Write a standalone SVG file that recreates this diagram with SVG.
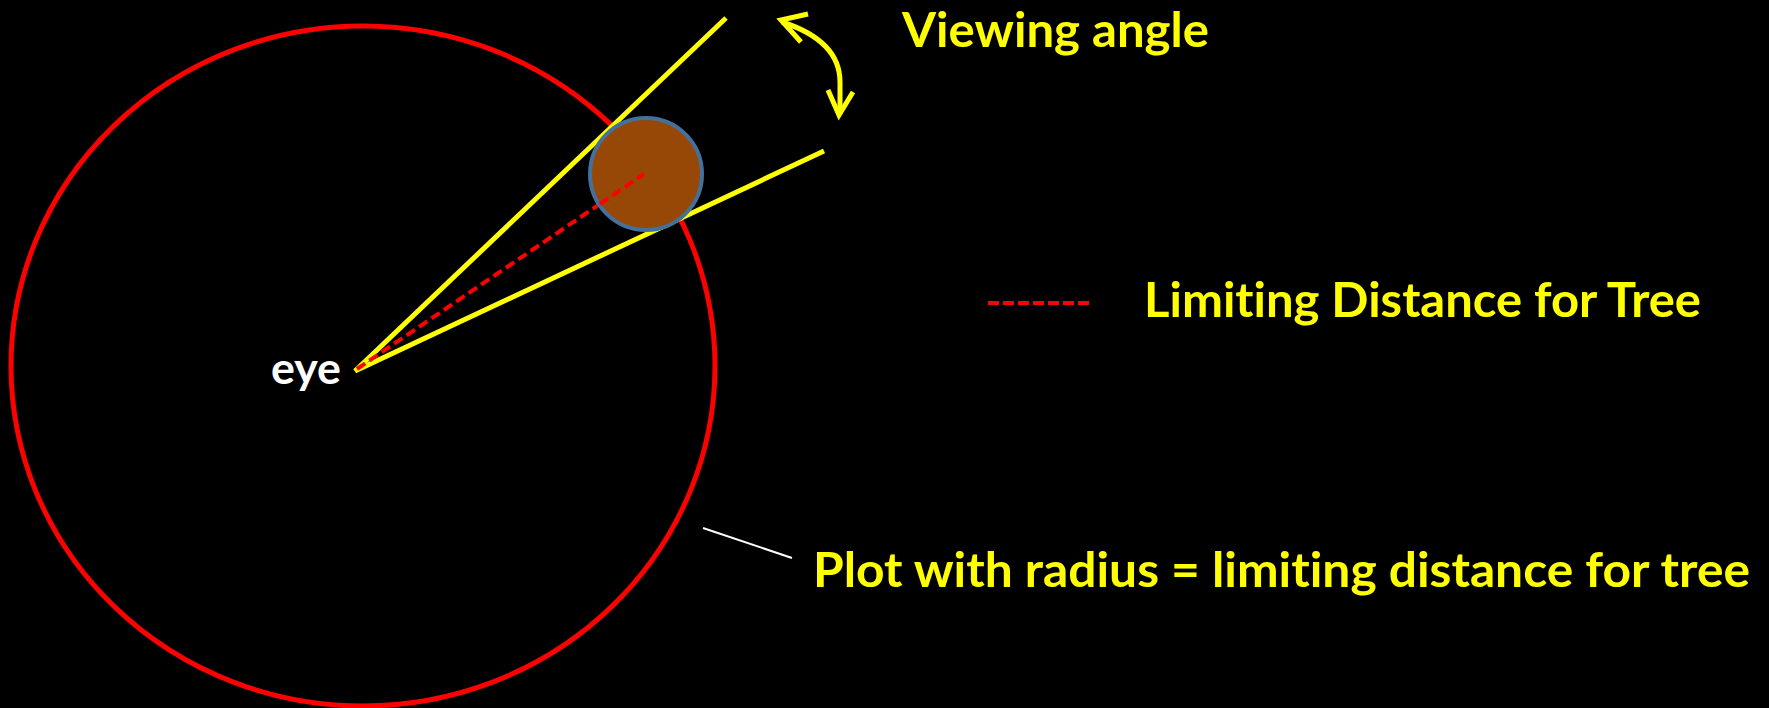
<svg xmlns="http://www.w3.org/2000/svg" width="1769" height="708" viewBox="0 0 1769 708">
<defs>
<style>
text{font-variant-ligatures:none;font-feature-settings:"liga" 0}
.lbl{font-family:Lato,"Liberation Sans",sans-serif;font-weight:bold;font-size:48px;fill:#FFFF00}
.ray{stroke:#FFFF00;stroke-width:5;fill:none}
.dash{stroke:#FF0000;stroke-width:4;stroke-dasharray:10 5;fill:none}
</style>
</defs>
<rect x="0" y="0" width="1769" height="708" fill="#000"/>
<g id="plot">
<ellipse cx="363" cy="366" rx="352" ry="340" fill="none" stroke="#FF0000" stroke-width="5"/>
</g>
<g id="connectors">
<line class="ray" x1="355" y1="371" x2="726" y2="18"/>
<line class="ray" x1="355" y1="371" x2="824" y2="151"/>
<line class="dash" x1="357" y1="369" x2="644" y2="174"/>
<line x1="703" y1="528" x2="792" y2="558" stroke="#FFFFFF" stroke-width="2"/>
<path d="M782,22 C816,33 840,52 840,82 L840,112" stroke="#FFFF00" stroke-width="5" fill="none"/>
<polyline points="808,14 781,20 801,42" stroke="#FFFF00" stroke-width="5" fill="none" stroke-linejoin="miter"/>
<polyline points="828,90 839,115 853,92" stroke="#FFFF00" stroke-width="5" fill="none" stroke-linejoin="miter"/>
</g>
<g id="tree">
<circle cx="646" cy="174" r="56" fill="#974806" stroke="#41719C" stroke-width="4"/>
<line class="dash" x1="600" y1="204" x2="644" y2="174"/>
</g>
<g id="eye">
<text x="271" y="384" font-family="Lato,'Liberation Sans',sans-serif" font-weight="bold" font-size="44" fill="#FFFFFF" textLength="70" lengthAdjust="spacingAndGlyphs">eye</text>
</g>
<g id="viewing-angle">
<text class="lbl" x="902" y="47" textLength="307" lengthAdjust="spacingAndGlyphs">Viewing angle</text>
</g>
<g id="legend">
<line x1="988" y1="303" x2="1092" y2="303" stroke="#FF0000" stroke-width="4" stroke-dasharray="11 4"/>
<text class="lbl" x="1144" y="317" textLength="557" lengthAdjust="spacingAndGlyphs">Limiting Distance for Tree</text>
</g>
<g id="plot-label">
<text class="lbl" x="813" y="587" textLength="937" lengthAdjust="spacingAndGlyphs">Plot with radius = limiting distance for tree</text>
</g>
</svg>
